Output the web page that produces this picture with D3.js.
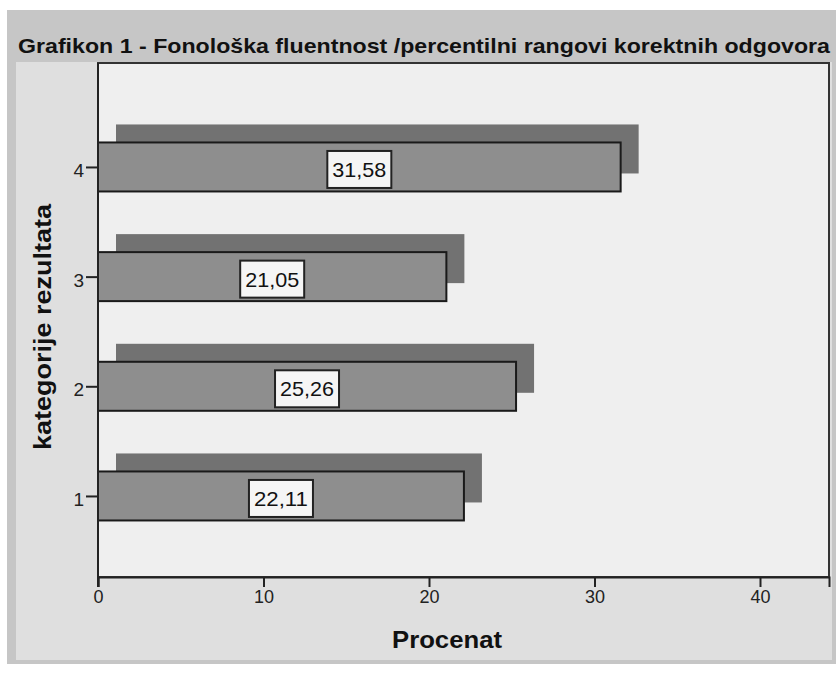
<!DOCTYPE html>
<html><head><meta charset="utf-8">
<script src="https://cdn.jsdelivr.net/npm/d3@7"></script>
<style>body{margin:0;background:#fff;}svg{display:block;font-family:"Liberation Sans",Arial,sans-serif;}</style>
</head><body>
<script>
const title = "Grafikon 1 - Fonološka fluentnost /percentilni rangovi korektnih odgovora";
const categories = [1, 2, 3, 4];
const values = [22.11, 25.26, 21.05, 31.58];
const valueLabels = ["22,11", "25,26", "21,05", "31,58"];
const xTicks = [0, 10, 20, 30, 40];
const xTitle = "Procenat";
const yTitle = "kategorije rezultata";

const W = 837, H = 673;
const svg = d3.select("body").append("svg").attr("width", W).attr("height", H);

// frames
svg.append("rect").attr("x", 7).attr("y", 10).attr("width", 829).attr("height", 654).attr("fill", "#c6c6c6");
svg.append("rect").attr("x", 16).attr("y", 62).attr("width", 816).attr("height", 598).attr("fill", "#dfdfdf");

const L = 98, R = 829, T = 63, B = 577;
const x = d3.scaleLinear().domain([0, (R - L) / 16.55]).range([L, R]);
const y = d3.scaleLinear().domain([0.261, 4.948]).range([B, T]);

svg.append("text").attr("x", 18).attr("y", 53).attr("font-size", 21).attr("font-weight", "bold")
  .attr("fill", "#111").attr("textLength", 812).attr("lengthAdjust", "spacingAndGlyphs").text(title);

// plot bg
svg.append("rect").attr("x", L).attr("y", T).attr("width", R - L).attr("height", B - T)
  .attr("fill", "#efefef").attr("stroke", "#333").attr("stroke-width", 2);

const barH = 49;
const off = 18;
const g = svg.append("g");
// shadows
g.selectAll("rect.sh").data(categories).join("rect").attr("class", "sh")
  .attr("x", x(0) + off).attr("y", (d) => y(d) - barH / 2 - off)
  .attr("width", (d, i) => x(values[i]) - x(0)).attr("height", barH).attr("fill", "#727272");
// bars
g.selectAll("rect.bar").data(categories).join("rect").attr("class", "bar")
  .attr("x", x(0)).attr("y", (d) => y(d) - barH / 2)
  .attr("width", (d, i) => x(values[i]) - x(0)).attr("height", barH)
  .attr("fill", "#8e8e8e").attr("stroke", "#1a1a1a").attr("stroke-width", 2);

// labels
const lab = g.selectAll("g.lab").data(categories).join("g").attr("class", "lab")
  .attr("transform", (d, i) => `translate(${(x(0) + x(values[i])) / 2},${y(d) + 2})`);
lab.append("rect").attr("x", -32).attr("y", -18).attr("width", 64).attr("height", 37)
  .attr("fill", "#f5f5f5").attr("stroke", "#222").attr("stroke-width", 2);
lab.append("text").attr("text-anchor", "middle").attr("y", 8).attr("font-size", 21).attr("fill", "#111")
  .attr("textLength", 54).attr("lengthAdjust", "spacingAndGlyphs")
  .text((d, i) => valueLabels[i]);

// x axis
const xa = svg.append("g").attr("transform", `translate(0,${B})`)
  .call(d3.axisBottom(x).tickValues(xTicks).tickSize(10).tickPadding(3).tickFormat(d3.format("d")));
xa.attr("font-size", 18).attr("font-family", "Liberation Sans, Arial, sans-serif");
xa.select(".domain").attr("stroke", "#222").attr("stroke-width", 2);
xa.selectAll(".tick line").attr("stroke", "#222").attr("stroke-width", 2);
xa.selectAll(".tick text").attr("font-size", 18).attr("fill", "#222");

// y axis
const ya = svg.append("g").attr("transform", `translate(${L},0)`)
  .call(d3.axisLeft(y).tickValues(categories).tickSize(12).tickPadding(2).tickFormat(d3.format("d")));
ya.attr("font-size", 19).attr("font-family", "Liberation Sans, Arial, sans-serif");
ya.select(".domain").remove();
ya.selectAll(".tick line").attr("stroke", "#222").attr("stroke-width", 2);
ya.selectAll(".tick text").attr("font-size", 19).attr("fill", "#222").attr("dy", "0.5em");
svg.append("line").attr("x1", L).attr("x2", L).attr("y1", T).attr("y2", B + 10).attr("stroke", "#222").attr("stroke-width", 2);

svg.append("text").attr("x", 447).attr("y", 648).attr("text-anchor", "middle").attr("font-size", 23)
  .attr("font-weight", "bold").attr("fill", "#111").attr("textLength", 110).attr("lengthAdjust", "spacingAndGlyphs").text(xTitle);
svg.append("text").attr("transform", "translate(51,327) rotate(-90)").attr("text-anchor", "middle")
  .attr("font-size", 23).attr("font-weight", "bold").attr("fill", "#111")
  .attr("textLength", 246).attr("lengthAdjust", "spacingAndGlyphs").text(yTitle);
</script>
</body></html>
